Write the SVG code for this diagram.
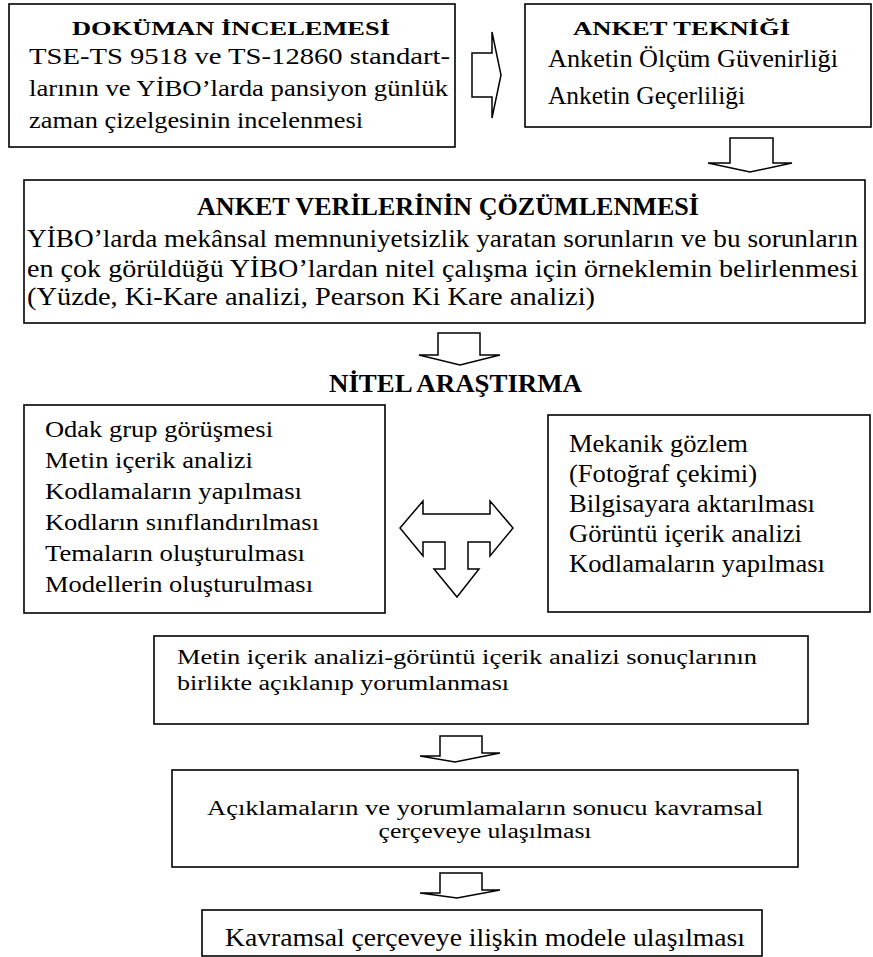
<svg xmlns="http://www.w3.org/2000/svg" width="873" height="957" viewBox="0 0 873 957">
<style>
.box{fill:#fff;stroke:#000;stroke-width:1.6}
.arr{fill:#fff;stroke:#000;stroke-width:1.5;stroke-linejoin:miter}
text{font-family:'Liberation Serif','Times New Roman',Times,serif;fill:#000;font-size:26px}
.b{font-weight:bold}
.c{text-anchor:middle}
</style>
<rect width="873" height="957" fill="#fff"/>
<g id="connectors">
<polygon class="arr" points="472,53 492,53 492,32 501,75 492,118 492,97 472,97"/>
<polygon class="arr" points="730,138 773,138 773,163 792,163 750,172 708,163 730,163"/>
<polygon class="arr" points="438,333 480,333 480,355 500,355 460,365 419,355 438,355"/>
<polygon class="arr" points="400,528 423,501 423,514 490,514 490,501 513,528 490,556 490,542 468,542 468,569 479,569 457,597 434,569 445,569 445,542 423,542 423,556"/>
<polygon class="arr" points="440,736 482,736 482,753 500,753 455,762 420,756 440,756"/>
<polygon class="arr" points="440,873 482,873 482,890 500,890 457,898 420,893 440,893"/>
</g>
<g id="dokuman">
<rect class="box" x="9" y="4" width="446" height="143"/>
<text class="b" transform="translate(72,35) scale(1,0.76)" textLength="318" lengthAdjust="spacingAndGlyphs">DOKÜMAN İNCELEMESİ</text>
<text transform="translate(29,64) scale(1,0.85)" textLength="421" lengthAdjust="spacingAndGlyphs">TSE-TS 9518 ve TS-12860 standart-</text>
<text transform="translate(29,96) scale(1,0.85)" textLength="419" lengthAdjust="spacingAndGlyphs">larının ve YİBO’larda pansiyon günlük</text>
<text transform="translate(29,128) scale(1,0.85)" textLength="334" lengthAdjust="spacingAndGlyphs">zaman çizelgesinin incelenmesi</text>
</g>
<g id="anket">
<rect class="box" x="525" y="4" width="346" height="123"/>
<text class="b" transform="translate(573,35) scale(1,0.76)" textLength="217" lengthAdjust="spacingAndGlyphs">ANKET TEKNİĞİ</text>
<text transform="translate(548,67) scale(1,0.97)" textLength="290" lengthAdjust="spacingAndGlyphs">Anketin Ölçüm Güvenirliği</text>
<text transform="translate(548,104) scale(1,0.97)" textLength="197" lengthAdjust="spacingAndGlyphs">Anketin Geçerliliği</text>
</g>
<g id="cozumleme">
<rect class="box" x="24" y="180" width="841" height="143"/>
<text class="b" transform="translate(197,215) scale(1,0.97)" textLength="502" lengthAdjust="spacingAndGlyphs">ANKET VERİLERİNİN ÇÖZÜMLENMESİ</text>
<text transform="translate(27,247) scale(1,0.97)" textLength="831" lengthAdjust="spacingAndGlyphs">YİBO’larda mekânsal memnuniyetsizlik yaratan sorunların ve bu sorunların</text>
<text transform="translate(27,277) scale(1,0.97)" textLength="831" lengthAdjust="spacingAndGlyphs">en çok görüldüğü YİBO’lardan nitel çalışma için örneklemin belirlenmesi</text>
<text transform="translate(27,305) scale(1,0.97)" textLength="568" lengthAdjust="spacingAndGlyphs">(Yüzde, Ki-Kare analizi, Pearson Ki Kare analizi)</text>
</g>
<g id="nitel">
<text class="b" x="329" y="392" textLength="253" lengthAdjust="spacingAndGlyphs">NİTEL ARAŞTIRMA</text>
</g>
<g id="odak">
<rect class="box" x="24" y="405" width="361" height="208"/>
<text transform="translate(45,437) scale(1,0.86)" textLength="228" lengthAdjust="spacingAndGlyphs">Odak grup görüşmesi</text>
<text transform="translate(45,468) scale(1,0.86)" textLength="208" lengthAdjust="spacingAndGlyphs">Metin içerik analizi</text>
<text transform="translate(45,499) scale(1,0.86)" textLength="257" lengthAdjust="spacingAndGlyphs">Kodlamaların yapılması</text>
<text transform="translate(45,530) scale(1,0.86)" textLength="274" lengthAdjust="spacingAndGlyphs">Kodların sınıflandırılması</text>
<text transform="translate(45,561) scale(1,0.86)" textLength="260" lengthAdjust="spacingAndGlyphs">Temaların oluşturulması</text>
<text transform="translate(45,592) scale(1,0.86)" textLength="268" lengthAdjust="spacingAndGlyphs">Modellerin oluşturulması</text>
</g>
<g id="mekanik">
<rect class="box" x="548" y="415" width="322" height="197"/>
<text x="569" y="452" textLength="179" lengthAdjust="spacingAndGlyphs">Mekanik gözlem</text>
<text x="569" y="482" textLength="188" lengthAdjust="spacingAndGlyphs">(Fotoğraf çekimi)</text>
<text x="569" y="512" textLength="246" lengthAdjust="spacingAndGlyphs">Bilgisayara aktarılması</text>
<text x="569" y="542" textLength="233" lengthAdjust="spacingAndGlyphs">Görüntü içerik analizi</text>
<text x="569" y="572" textLength="256" lengthAdjust="spacingAndGlyphs">Kodlamaların yapılması</text>
</g>
<g id="sonuc">
<rect class="box" x="154" y="636" width="654" height="88"/>
<text transform="translate(177,664) scale(1,0.8)" textLength="580" lengthAdjust="spacingAndGlyphs">Metin içerik analizi-görüntü içerik analizi sonuçlarının</text>
<text transform="translate(177,690) scale(1,0.8)" textLength="332" lengthAdjust="spacingAndGlyphs">birlikte açıklanıp yorumlanması</text>
</g>
<g id="aciklama">
<rect class="box" x="172" y="770" width="626" height="97"/>
<text class="c" transform="translate(485,815) scale(1,0.8)" textLength="556" lengthAdjust="spacingAndGlyphs">Açıklamaların ve yorumlamaların sonucu kavramsal</text>
<text class="c" transform="translate(485,838) scale(1,0.8)" textLength="213" lengthAdjust="spacingAndGlyphs">çerçeveye ulaşılması</text>
</g>
<g id="model">
<rect class="box" x="202" y="910" width="560" height="46"/>
<text class="c" x="485" y="946" textLength="520" lengthAdjust="spacingAndGlyphs">Kavramsal çerçeveye ilişkin modele ulaşılması</text>
</g>
</svg>
